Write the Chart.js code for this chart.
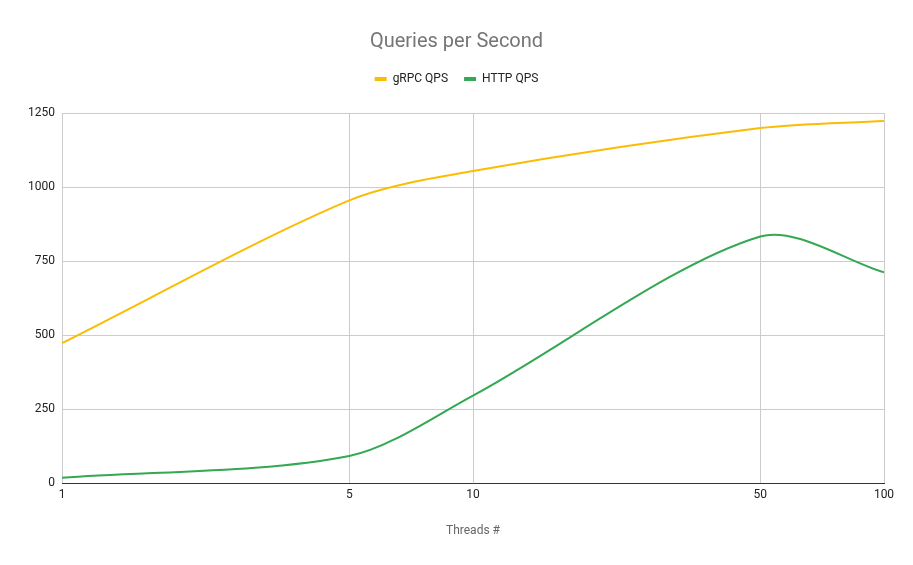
<!DOCTYPE html>
<html>
<head>
<meta charset="utf-8">
<script src="https://cdn.jsdelivr.net/npm/chart.js@4/dist/chart.umd.min.js"></script>
<style>
  html, body { margin: 0; padding: 0; background: #fff; }
  #wrap { width: 913px; height: 565px; position: relative; }
</style>
</head>
<body>
<div id="wrap"><canvas id="qps"></canvas></div>
<script>
// thread counts on the x axis (log scale)
const threads = [1, 5, 10, 50, 100];
const grpcQps = [473, 955, 1054, 1199, 1223];
const httpQps = [18, 92, 296, 833, 712];
const xTicks = [1, 5, 10, 50, 100];
const yTicks = [0, 250, 500, 750, 1000, 1250];

const toPoints = (ys) => threads.map((t, i) => ({ x: t, y: ys[i] }));

// push the plot down a bit below the legend
const legendGap = {
  id: 'legendGap',
  beforeInit(chart) {
    const fit = chart.legend.fit;
    chart.legend.fit = function() { fit.bind(chart.legend)(); this.height += 18; };
  }
};

const ctx = document.getElementById('qps').getContext('2d');
window.chartQps = new Chart(ctx, {
  type: 'line',
  data: {
    datasets: [
      { label: 'gRPC QPS', data: toPoints(grpcQps), borderColor: '#fbbc04', backgroundColor: '#fbbc04',
        borderWidth: 2, pointRadius: 0, tension: 0.3, fill: false },
      { label: 'HTTP QPS', data: toPoints(httpQps), borderColor: '#34a853', backgroundColor: '#34a853',
        borderWidth: 2, pointRadius: 0, tension: 0.3, fill: false }
    ]
  },
  plugins: [legendGap],
  options: {
    responsive: true,
    maintainAspectRatio: false,
    animation: false,
    layout: { padding: { left: 0, right: 0, top: 0, bottom: 23 } },
    plugins: {
      tooltip: { enabled: false },
      title: {
        display: true, text: 'Queries per Second', color: '#757575',
        font: { family: 'Roboto', size: 20, weight: 'normal' },
        padding: { top: 30, bottom: 3 }
      },
      legend: {
        position: 'top',
        labels: {
          color: '#222', font: { family: 'Roboto', size: 12 },
          boxWidth: 12, boxHeight: 4, padding: 16,
          generateLabels: (chart) => chart.data.datasets.map((ds, i) => ({
            text: ds.label, fillStyle: ds.borderColor, strokeStyle: ds.borderColor,
            lineWidth: 0, hidden: false, datasetIndex: i, fontColor: '#222'
          }))
        }
      }
    },
    scales: {
      x: {
        type: 'logarithmic', min: 1, max: 100,
        afterBuildTicks: (s) => { s.ticks = xTicks.map(v => ({ value: v })); },
        ticks: { color: '#222', font: { family: 'Roboto', size: 12 }, padding: 5,
                 autoSkip: false, maxRotation: 0, callback: (v) => String(v) },
        grid: { color: '#cccccc', drawTicks: false },
        border: { color: '#333333', width: 1 },
        title: { display: true, text: 'Threads #', color: '#666',
                 font: { family: 'Roboto', size: 12 }, padding: { top: 16, bottom: 4 } }
      },
      y: {
        min: 0, max: 1250,
        afterBuildTicks: (s) => { s.ticks = yTicks.map(v => ({ value: v })); },
        afterFit: (s) => { s.width = 62; },
        ticks: { color: '#222', font: { family: 'Roboto', size: 12 }, padding: 7,
                 callback: (v) => String(v) },
        grid: { color: '#cccccc', drawTicks: false },
        border: { display: false }
      },
      // empty right-hand axis, only reserves space so title/legend stay centred on the page
      yRight: {
        position: 'right', min: 0, max: 1250,
        afterFit: (s) => { s.width = 29; },
        ticks: { display: false },
        grid: { drawOnChartArea: false, drawTicks: false },
        border: { display: false }
      }
    }
  }
});
</script>
</body>
</html>
